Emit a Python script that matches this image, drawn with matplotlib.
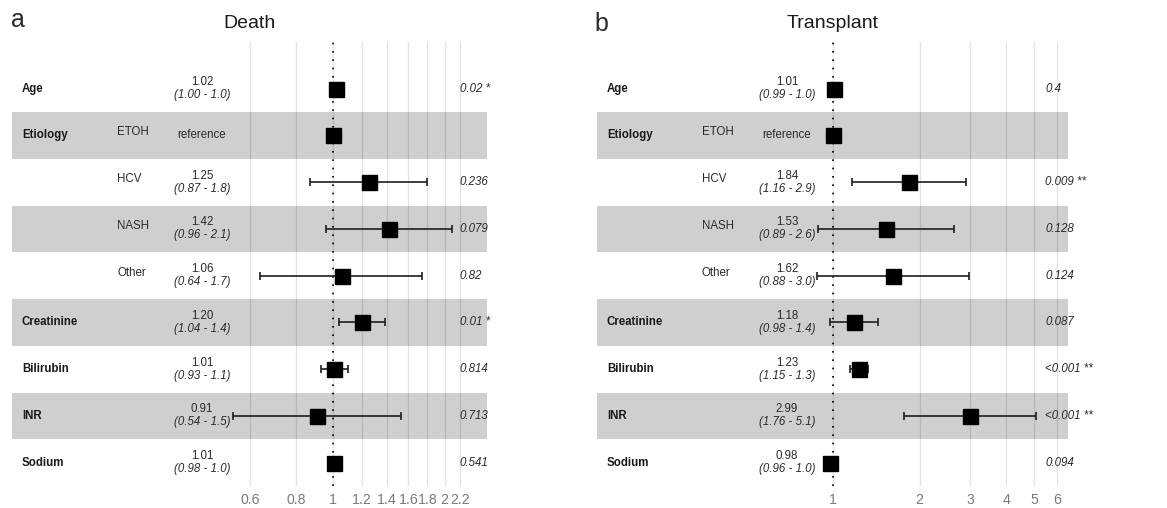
import numpy as np
import matplotlib
matplotlib.use("Agg")
import matplotlib.pyplot as plt
import matplotlib.transforms as mtransforms

plt.rcParams['font.family'] = ['Liberation Sans', 'DejaVu Sans']

# ---------------- data ----------------
variables = ["Age", "Etiology", "", "", "", "Creatinine", "Bilirubin", "INR", "Sodium"]
levels = ["", "ETOH", "HCV", "NASH", "Other", "", "", "", ""]
is_reference = [False, True, False, False, False, False, False, False, False]

death_hr = [1.02, 1.00, 1.25, 1.42, 1.06, 1.20, 1.01, 0.91, 1.01]
death_lower = [1.00, np.nan, 0.87, 0.96, 0.64, 1.04, 0.93, 0.54, 0.98]
death_upper = [1.04, np.nan, 1.80, 2.10, 1.74, 1.38, 1.10, 1.53, 1.03]
death_p = ["0.02 *", "", "0.236", "0.079", "0.82", "0.01 *", "0.814", "0.713", "0.541"]
death_ticks = [0.6, 0.8, 1, 1.2, 1.4, 1.6, 1.8, 2, 2.2]
death_tick_labels = ["0.6", "0.8", "1", "1.2", "1.4", "1.6", "1.8", "2", "2.2"]

tx_hr = [1.01, 1.00, 1.84, 1.53, 1.62, 1.18, 1.23, 2.99, 0.98]
tx_lower = [0.99, np.nan, 1.16, 0.89, 0.88, 0.98, 1.15, 1.76, 0.96]
tx_upper = [1.03, np.nan, 2.90, 2.63, 2.98, 1.43, 1.32, 5.07, 1.00]
tx_p = ["0.4", "", "0.009 **", "0.128", "0.124", "0.087", "<0.001 **", "<0.001 **", "0.094"]
tx_ticks = [1, 2, 3, 4, 5, 6]
tx_tick_labels = ["1", "2", "3", "4", "5", "6"]

# ---------------- figure ----------------
W, H = 1167, 508
fig = plt.figure(figsize=(W / 100, H / 100), dpi=100)
fig.patch.set_facecolor("white")

TXT = "#1a1a1a"
FS = 8.3


def panel(left_px, width_px, xlim, hr, lo, hi, pvals, ticks, ticklabels, title, letter, letter_x, letter_y):
    top_px, bottom_px = 42, 486
    ax = fig.add_axes([left_px / W, (H - bottom_px) / H, width_px / W, (bottom_px - top_px) / H])
    n = len(variables)
    ypos = np.arange(n, 0, -1)  # first row on top
    ax.set_xscale("log")
    ax.set_xlim(*xlim)
    ax.set_ylim(0.5, n + 1.0)

    # grid
    for t in ticks:
        ax.axvline(t, color="#e3e3e3", lw=0.9, zorder=0)
    # alternating bands
    for k, y in enumerate(ypos):
        if k % 2 == 1:
            ax.axhspan(y - 0.5, y + 0.5, color="black", alpha=0.19, lw=0, zorder=1)
    # reference line
    ax.axvline(1, color="black", lw=1.2, ls=(0, (1.0, 4.0)), zorder=2)

    hr = np.array(hr)
    lo = np.array(lo)
    hi = np.array(hi)
    ref = np.array(is_reference)
    m = ~ref
    ax.errorbar(hr[m], ypos[m], xerr=[hr[m] - lo[m], hi[m] - hr[m]], fmt="none",
                ecolor="#1e1e1e", elinewidth=1.2, capsize=2.6, capthick=1.2, zorder=3)
    ax.plot(hr, ypos, ls="none", marker="s", ms=10.8, color="black", zorder=4)

    # text columns
    trans = mtransforms.blended_transform_factory(ax.transAxes, ax.transData)
    fx = lambda px: px / width_px
    for k, y in enumerate(ypos):
        if variables[k]:
            ax.text(fx(10), y, variables[k], transform=trans, ha="left", va="center",
                    fontsize=FS, fontweight="bold", color=TXT)
        if levels[k]:
            ax.text(fx(105), y, levels[k], transform=trans, ha="left", va="baseline",
                    fontsize=FS, color="#2a2a2a")
        if is_reference[k]:
            ax.text(fx(190), y, "reference", transform=trans, ha="center", va="center",
                    fontsize=FS, color="#2a2a2a")
        else:
            ax.text(fx(190), y + 0.01, f"{hr[k]:.2f}", transform=trans, ha="center", va="bottom",
                    fontsize=FS, color="#2a2a2a")
            ax.text(fx(190), y - 0.01, f"({lo[k]:.2f} - {hi[k]:.1f})", transform=trans,
                    ha="center", va="top", fontsize=FS, fontstyle="italic", color="#2a2a2a")
        if pvals[k]:
            ax.text(fx(448), y, pvals[k], transform=trans, ha="left", va="center",
                    fontsize=FS, fontstyle="italic", color="#2a2a2a")

    ax.set_xticks(ticks)
    ax.set_xticklabels(ticklabels)
    ax.xaxis.set_minor_locator(matplotlib.ticker.NullLocator())
    ax.tick_params(axis="x", length=0, pad=5, labelsize=10.2, labelcolor="#7a7a7a")
    ax.set_yticks([])
    for s in ax.spines.values():
        s.set_visible(False)
    ax.set_facecolor("none")

    cx = (left_px + width_px / 2) / W
    fig.text(cx, 1 - 28 / H, title, ha="center", va="baseline", fontsize=14, color=TXT)
    fig.text(letter_x / W, 1 - letter_y / H, letter, ha="left", va="baseline", fontsize=18,
             color="#2a2a2a")
    return ax


# panel a: 1 at x=332.5 px, 161.6 px per ln unit
sa = 161.6
panel(12, 475, (np.exp((12 - 332.5) / sa), np.exp((487 - 332.5) / sa)),
      death_hr, death_lower, death_upper, death_p, death_ticks, death_tick_labels,
      "Death", "a", 11, 27)
# panel b: 1 at x=833 px, 125 px per ln unit
sb = 125.0
panel(597, 471, (np.exp((597 - 833) / sb), np.exp((1068 - 833) / sb)),
      tx_hr, tx_lower, tx_upper, tx_p, tx_ticks, tx_tick_labels,
      "Transplant", "b", 594, 31)

fig.savefig("out.png", dpi=100)
